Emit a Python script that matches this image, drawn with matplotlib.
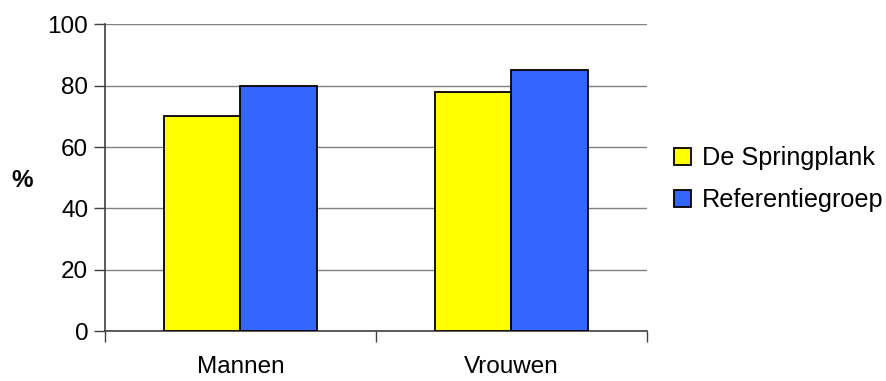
import matplotlib
matplotlib.use("Agg")
import matplotlib.pyplot as plt
import numpy as np

plt.rcParams['font.family'] = ['Liberation Sans', 'DejaVu Sans']

categories = ["Mannen", "Vrouwen"]
series_names = ["De Springplank", "Referentiegroep"]
springplank = [70, 78]
referentie = [80, 85]
y_ticks = [0, 20, 40, 60, 80, 100]

colors = ["#FFFF00", "#3366FF"]

fig = plt.figure(figsize=(8.86, 3.81), dpi=100)
ax = fig.add_axes([0.1185, 0.1312, 0.6115, 0.8045])

x = np.arange(len(categories))
w = 0.283
ax.bar(x - w / 2, springplank, w, color=colors[0], edgecolor="black", linewidth=1.3,
       label=series_names[0], zorder=3)
ax.bar(x + w / 2, referentie, w, color=colors[1], edgecolor="black", linewidth=1.3,
       label=series_names[1], zorder=3)

ax.set_xlim(-0.5, len(categories) - 0.5)
ax.set_ylim(0, 100)
ax.set_yticks(y_ticks)
ax.yaxis.grid(True, color="#808080", linewidth=1.0, zorder=0)
ax.set_axisbelow(True)

# category boundaries carry tick marks, category names sit between them
ax.set_xticks(np.arange(-0.5, len(categories), 1.0))
ax.set_xticklabels([])
ax.set_xticks(x, minor=True)
ax.set_xticklabels(categories, minor=True)
ax.tick_params(axis="x", which="major", direction="out", length=8, width=1, color="#404040")
ax.tick_params(axis="x", which="minor", length=0, pad=18, labelsize=17.5)
ax.tick_params(axis="y", direction="out", length=8, width=1, color="#404040",
               labelsize=17.5, pad=4)

for side in ("top", "right"):
    ax.spines[side].set_visible(False)
for side in ("left", "bottom"):
    ax.spines[side].set_color("#404040")
    ax.spines[side].set_linewidth(1.2)

fig.text(0.025, 0.525, "%", fontsize=17.5, fontweight="bold", ha="center", va="center")

leg = ax.legend(loc="center left", bbox_to_anchor=(1.018, 0.495), frameon=False,
                fontsize=18.2, handlelength=0.68, handleheight=0.68,
                handletextpad=0.4, labelspacing=0.72, borderaxespad=0.3)

fig.savefig("out.png", dpi=100)
